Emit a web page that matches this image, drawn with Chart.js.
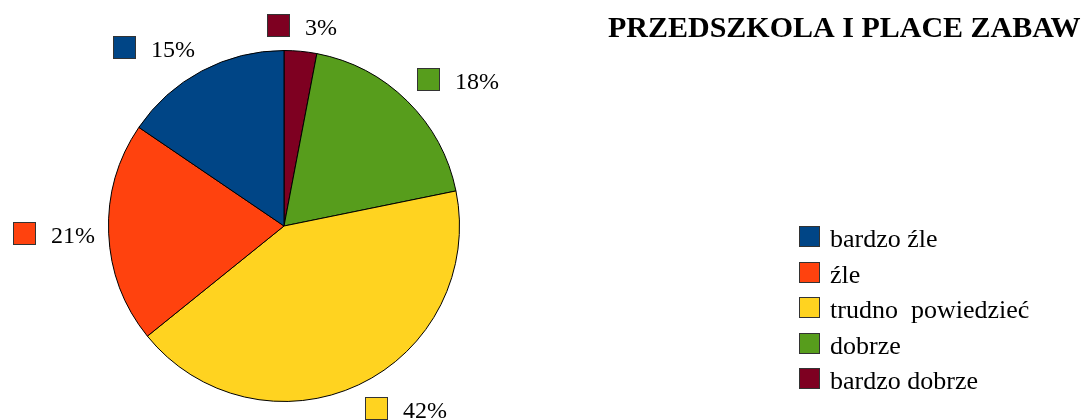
<!DOCTYPE html>
<html>
<head>
<meta charset="utf-8">
<script src="https://cdn.jsdelivr.net/npm/chart.js@4"></script>
<style>
html,body{margin:0;padding:0;background:#fff;}
#c{display:block;}
</style>
</head>
<body>
<canvas id="c" width="1089" height="420"></canvas>
<script>
// Data (legend order)
const categories = ["bardzo źle", "źle", "trudno  powiedzieć", "dobrze", "bardzo dobrze"];
const values = [15.5, 20.3, 42.4, 18.8, 3.0];
const percentLabels = ["15%", "21%", "42%", "18%", "3%"];
const colors = ["#004586", "#ff420e", "#ffd320", "#579d1c", "#7e0021"];
const chartTitle = "PRZEDSZKOLA I PLACE ZABAW";

// Slices are drawn clockwise from the top starting with the last category
const drawCats = categories.slice().reverse();
const drawVals = values.slice().reverse();
const drawCols = colors.slice().reverse();
const drawPct = percentLabels.slice().reverse();

const FONT = '"Liberation Serif", "Times New Roman", serif';

const overlay = {
  id: 'overlay',
  afterDatasetsDraw(chart) {
    const ctx = chart.ctx;
    const meta = chart.getDatasetMeta(0);
    ctx.save();
    // percentage labels with colour squares, placed outside the pie
    ctx.font = '24px ' + FONT;
    ctx.textBaseline = 'alphabetic';
    ctx.textAlign = 'left';
    const TH = 0.383;
    meta.data.forEach((arc, i) => {
      const p = arc.getProps(['x', 'y', 'startAngle', 'endAngle', 'outerRadius'], true);
      const mid = (p.startAngle + p.endAngle) / 2;
      const dx = Math.cos(mid), dy = Math.sin(mid);
      const r = p.outerRadius + 14;
      const ax = p.x + r * dx, ay = p.y + r * dy;
      const txt = drawPct[i];
      const tw = ctx.measureText(txt).width;
      const sq = 22, gap = 16;
      const w = sq + gap + tw, h = 23;
      let left, top;
      if (dx > TH) left = ax; else if (dx < -TH) left = ax - w; else left = ax - w / 2;
      if (dy > TH) top = ay; else if (dy < -TH) top = ay - h; else top = ay - h / 2;
      left = Math.round(left); top = Math.round(top);
      ctx.fillStyle = drawCols[i];
      ctx.fillRect(left, top, sq, sq);
      ctx.strokeStyle = '#333333';
      ctx.lineWidth = 1;
      ctx.strokeRect(left + 0.5, top + 0.5, sq, sq);
      ctx.fillStyle = '#000';
      ctx.fillText(txt, left + sq + gap, top + sq - 1);
    });
    // legend
    ctx.font = '26px ' + FONT;
    const lx = 799, ly0 = 226, step = 35.5, ls = 21;
    categories.forEach((c, i) => {
      const y = Math.round(ly0 + i * step);
      ctx.fillStyle = colors[i];
      ctx.fillRect(lx, y, ls, ls);
      ctx.strokeStyle = '#333333';
      ctx.lineWidth = 1;
      ctx.strokeRect(lx + 0.5, y + 0.5, ls - 1, ls - 1);
      ctx.fillStyle = '#000';
      ctx.fillText(c, 830, y + ls);
    });
    // title
    ctx.font = 'bold 30px ' + FONT;
    ctx.fillStyle = '#000';
    ctx.fillText(chartTitle, 608, 37);
    ctx.restore();
  }
};

new Chart(document.getElementById('c'), {
  type: 'pie',
  data: {
    labels: drawCats,
    datasets: [{
      data: drawVals,
      backgroundColor: drawCols,
      borderColor: '#000000',
      borderWidth: 1
    }]
  },
  options: {
    responsive: false,
    animation: false,
    layout: { padding: { left: 108, right: 629, top: 50, bottom: 18 } },
    plugins: {
      legend: { display: false },
      tooltip: { enabled: false },
      title: { display: false }
    }
  },
  plugins: [overlay]
});
</script>
</body>
</html>
